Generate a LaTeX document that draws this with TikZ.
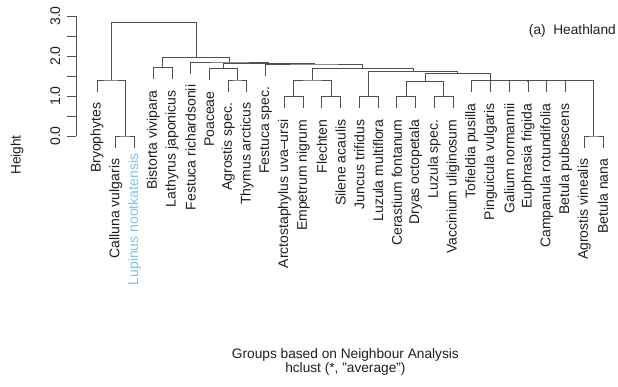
\documentclass[tikz,border=0pt]{standalone}
\usepackage{fontspec}
\setmainfont{Liberation Sans}
\usepackage{tikz}

\definecolor{linia}{RGB}{80,80,80}
\definecolor{tekst}{RGB}{30,30,30}
\definecolor{niebieski}{RGB}{125,195,235}

\tikzset{
	galaz/.style={linia, line width=0.9pt},
	lisc/.style={rotate=90, anchor=east, inner sep=0pt, tekst, font=\fontsize{14}{16}\selectfont},
	opis/.style={inner sep=0pt, tekst, font=\fontsize{13.7}{16}\selectfont},
}

\begin{document}
\begin{tikzpicture}[x=18.74pt, y=40pt]
	\useasboundingbox (-78.26pt,-251pt) rectangle (539.74pt,136pt);

	%os
	\draw[galaz] (-0.12,0) -- (-0.12,3);
	\foreach \t in {0,0.5,...,3}
		\draw[galaz] (-0.12,\t) -- ++(-8.7pt,0);
	\foreach \t in {0,1,2,3}
		\node[opis, rotate=90, anchor=south, font=\fontsize{14}{16}\selectfont] (t\t) at ([xshift=-15.5pt]-0.12,\t) {\t.0};
	\node[opis, rotate=90] (ylab) at (-3.27,-0.475) {Height};

	%liscie
	\foreach \i/\h/\name in {1/1.11/Bryophytes, 2/-0.29/Calluna vulgaris,
		4/1.42/Bistorta vivipara, 5/1.42/Lathyrus japonicus, 6/1.56/Festuca richardsonii,
		7/1.39/Poaceae, 8/1.11/Agrostis spec., 9/1.11/Thymus arcticus, 10/1.51/Festuca spec.,
		11/0.69/Arctostaphylus uva–ursi, 12/0.69/Empetrum nigrum, 13/0.69/Flechten,
		14/0.69/Silene acaulis, 15/0.69/Juncus trifidus, 16/0.69/Luzula multiflora,
		17/0.69/Cerastium fontanum, 18/0.69/Dryas octopetala, 19/0.69/Luzula spec.,
		20/0.69/Vaccinium uliginosum, 21/1.10/Tofieldia pusilla, 22/1.095/Pinguicula vulgaris,
		23/1.09/Galium normannii, 24/1.09/Euphrasia frigida, 25/1.09/Campanula rotundifolia,
		26/1.09/Betula pubescens, 27/-0.29/Agrostis vinealis, 28/-0.29/Betula nana}
	{
		\coordinate (l\i) at (\i,\h);
		\node[lisc] (n\i) at ([yshift=-11pt]l\i) {\name};
	}
	\coordinate (l3) at (3,-0.29);
	\node[lisc, niebieski] (n3) at ([yshift=-6pt]l3) {Lupinus nootkatensis};

	%wezly
	\foreach \p/\x/\h in {m1/2.5/0, m2/1.75/1.40, bl/4.5/1.71, agth/8.5/1.40, poa/7.75/1.68,
		ae/11.5/0.98, fs/13.5/0.98, e/12.5/1.40, jl/15.5/0.98, cd/17.5/0.98, lv/19.5/0.98,
		k/18.5/1.36, ab/27.5/0, h6/26.75/1.38, h5/25.875/1.38, h4/24.9375/1.38,
		h3/23.96875/1.38, h2/22.984375/1.385, h1/21.9921875/1.39, g/20.24609/1.56,
		f/17.87305/1.61, d/15.18652/1.68, c/12.59326/1.80, b/10.17163/1.82,
		a/8.08582/1.85, r/6.29291/1.97, root/4.02145/2.84}
		\coordinate (\p) at (\x,\h);

	%galezie
	\foreach \p/\u/\v in {m1/l2/l3, m2/l1/m1, bl/l4/l5, agth/l8/l9, poa/l7/agth,
		ae/l11/l12, fs/l13/l14, e/ae/fs, jl/l15/l16, cd/l17/l18, lv/l19/l20, k/cd/lv,
		ab/l27/l28, h6/l26/ab, h5/l25/h6, h4/l24/h5, h3/l23/h4, h2/l22/h3, h1/l21/h2,
		g/k/h1, f/jl/g, d/e/f, c/l10/d, b/poa/c, a/l6/b, r/bl/a, root/m2/r}
		\draw[galaz] (\u) |- (\p) -| (\v);

	%podpisy
	\node[opis, anchor=base east] (tytul) at (28.695,2.525) {(a)\ \ Heathland};
	\node[opis, anchor=base] (xlab) at (14.255,-5.5575) {Groups based on Neighbour Analysis};
	\node[opis, anchor=base] (metoda) at (14.255,-5.9075) {hclust (*, "average")};
\end{tikzpicture}
\end{document}
